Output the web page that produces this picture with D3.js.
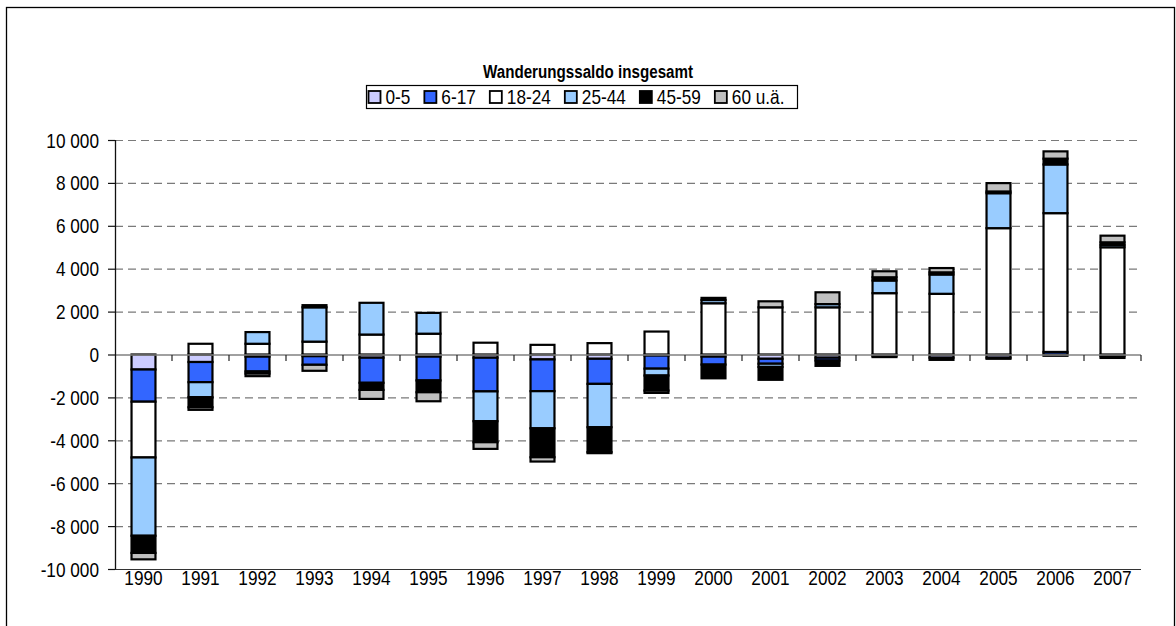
<!DOCTYPE html>
<html>
<head>
<meta charset="utf-8">
<script src="https://cdn.jsdelivr.net/npm/d3@7"></script>
<style>
  html, body { margin: 0; padding: 0; background: #fff; }
  svg { display: block; }
  text { font-family: "Liberation Sans", Arial, sans-serif; fill: #000; }
</style>
</head>
<body>
<svg id="chart" width="1176" height="626"></svg>
<script>
// Years on the category axis
const years = ["1990","1991","1992","1993","1994","1995","1996","1997","1998",
               "1999","2000","2001","2002","2003","2004","2005","2006","2007"];

// Age groups (series), in stacking order
const ageGroups = ["0-5", "6-17", "18-24", "25-44", "45-59", "60 u.ä."];

// Net migration per age group and year
const age0to5   = [-700, -350, -100, -80, -150, -100, -150, -230, -200, -50, -100, -200, -150, -60, -150, -150, -60, -80];
const age6to17  = [-1500, -940, -690, -400, -1170, -1110, -1570, -1480, -1170, -610, -370, -230, -130, -60, -100, -50, 120, -80];
const age18to24 = [-2600, 500, 500, 600, 930, 970, 550, 450, 530, 1070, 2390, 2200, 2200, 2860, 2830, 5890, 6470, 5000];
const age25to44 = [-3650, -700, 545, 1600, 1480, 970, -1390, -1730, -2020, -320, 150, -150, 150, 590, 900, 1630, 2270, 110];
const age45to59 = [-800, -470, -100, 100, -330, -550, -980, -1350, -1160, -700, -640, -600, -250, 150, 100, 80, 270, 120];
const age60plus = [-300, -120, -120, -280, -420, -420, -310, -200, -50, -110, 100, 280, 550, 280, 200, 390, 340, 310];

// Y axis ticks
const yTicks = [-10000, -8000, -6000, -4000, -2000, 0, 2000, 4000, 6000, 8000, 10000];

const seriesColors = ["#CCCCFF", "#3366FF", "#FFFFFF", "#99CCFF", "#000000", "#C0C0C0"];
const seriesValues = [age0to5, age6to17, age18to24, age25to44, age45to59, age60plus];

const rows = years.map((y, i) => {
  const r = { year: y };
  ageGroups.forEach((g, k) => { r[g] = seriesValues[k][i]; });
  return r;
});

const svg = d3.select("#chart");
const locale = d3.formatLocale({ decimal: ",", thousands: " ", grouping: [3], currency: ["", ""], minus: "-" });
const fmt = locale.format(",");

// Condensed text: regular face squeezed horizontally
const NARROW = 0.82;
function label(parent, x, y, str, opts = {}) {
  return parent.append("text")
    .attr("transform", `translate(${x},${y}) scale(${NARROW},1)`)
    .attr("text-anchor", opts.anchor || "start")
    .attr("font-size", opts.size || 21)
    .attr("font-weight", opts.weight || "normal")
    .text(str);
}

// Outer chart frame
svg.append("rect")
  .attr("x", 6.5).attr("y", 7.5).attr("width", 1168).attr("height", 640)
  .attr("fill", "#fff").attr("stroke", "#000").attr("stroke-width", 1.3);

const plot = { left: 115, right: 1141, top: 140, bottom: 569 };

const x = d3.scaleBand().domain(years).range([plot.left, plot.right])
  .paddingInner(0.58).paddingOuter(0.29);
const y = d3.scaleLinear().domain([-10000, 10000]).range([plot.bottom, plot.top]);

// Gridlines
svg.append("g").selectAll("line")
  .data(yTicks.filter(t => t !== 0 && t !== -10000))
  .join("line")
  .attr("x1", plot.left).attr("x2", plot.right)
  .attr("y1", d => y(d) + 0.5).attr("y2", d => y(d) + 0.5)
  .attr("stroke", "#7a7a7a").attr("stroke-width", 1.2)
  .attr("stroke-dasharray", "8,5");

// Bottom edge of plot
svg.append("line")
  .attr("x1", plot.left).attr("x2", plot.right)
  .attr("y1", y(-10000) + 0.5).attr("y2", y(-10000) + 0.5)
  .attr("stroke", "#333").attr("stroke-width", 1.2);

// Stacked bars (positives up, negatives down, in series order)
const stack = d3.stack().keys(ageGroups).offset(d3.stackOffsetDiverging);
const layers = stack(rows);

const gBars = svg.append("g");
layers.forEach((layer, k) => {
  gBars.append("g")
    .selectAll("rect")
    .data(layer)
    .join("rect")
    .attr("x", d => x(d.data.year))
    .attr("width", x.bandwidth())
    .attr("y", d => y(Math.max(d[0], d[1])))
    .attr("height", d => Math.abs(y(d[0]) - y(d[1])))
    .attr("fill", seriesColors[k])
    .attr("stroke", "#000")
    .attr("stroke-width", 2.2);
});

// Category axis at zero
const zeroY = y(0) + 0.5;
svg.append("line")
  .attr("x1", plot.left).attr("x2", plot.right)
  .attr("y1", zeroY).attr("y2", zeroY)
  .attr("stroke", "#808080").attr("stroke-width", 1.3);
const step = x.step();
svg.append("g").selectAll("line")
  .data(d3.range(1, years.length + 1))
  .join("line")
  .attr("x1", i => plot.left + i * step).attr("x2", i => plot.left + i * step)
  .attr("y1", zeroY).attr("y2", zeroY + 6)
  .attr("stroke", "#222").attr("stroke-width", 1.2);

// Value axis
const yAxis = svg.append("g");
yAxis.append("line")
  .attr("x1", plot.left + 0.5).attr("x2", plot.left + 0.5)
  .attr("y1", plot.top).attr("y2", plot.bottom + 0.5)
  .attr("stroke", "#111").attr("stroke-width", 1.3);
yAxis.selectAll(".tick").data(yTicks).join("line")
  .attr("x1", plot.left - 7).attr("x2", plot.left)
  .attr("y1", d => y(d) + 0.5).attr("y2", d => y(d) + 0.5)
  .attr("stroke", "#111").attr("stroke-width", 1.2);
yTicks.forEach(t => label(yAxis, 99, y(t) + 7.5, fmt(t), { anchor: "end" }));

// Year labels below the plot
const xLabels = svg.append("g");
years.forEach(yr => label(xLabels, x(yr) + x.bandwidth() / 2, 585, yr, { anchor: "middle" }));

// Title
label(svg, 588, 78, "Wanderungssaldo insgesamt", { anchor: "middle", size: 18.5, weight: "bold" });

// Legend
const legend = svg.append("g");
legend.append("rect")
  .attr("x", 366.5).attr("y", 85.5).attr("width", 431).attr("height", 23)
  .attr("fill", "#fff").attr("stroke", "#000").attr("stroke-width", 1.2);
let lx = 368.5;
ageGroups.forEach((g, k) => {
  legend.append("rect")
    .attr("x", lx).attr("y", 91).attr("width", 12).attr("height", 12)
    .attr("fill", seriesColors[k]).attr("stroke", "#000").attr("stroke-width", 1.8);
  const t = label(legend, lx + 17, 104, g);
  lx += 17 + t.node().getComputedTextLength() * NARROW + 14;
});
</script>
</body>
</html>
